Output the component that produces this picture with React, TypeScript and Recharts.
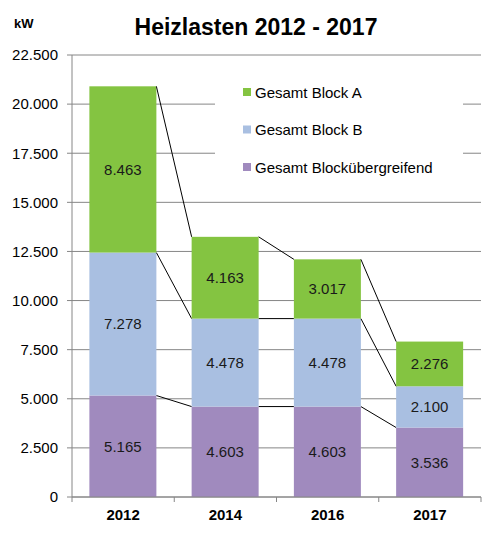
import { BarChart, Bar, XAxis, YAxis, CartesianGrid, Legend, LabelList } from "recharts";

const years = ["2012", "2014", "2016", "2017"];
const blockUebergreifend = [5165, 4603, 4603, 3536];
const blockB = [7278, 4478, 4478, 2100];
const blockA = [8463, 4163, 3017, 2276];
const yTicks = [0, 2500, 5000, 7500, 10000, 12500, 15000, 17500, 20000, 22500];

// stack order bottom -> top
const series = [
  { key: "ueber", name: "Gesamt Blockübergreifend", color: "#A08ABE" },
  { key: "blockB", name: "Gesamt Block B", color: "#A9BFE1" },
  { key: "blockA", name: "Gesamt Block A", color: "#84C441" },
];

const data = years.map((year, i) => ({
  year,
  ueber: blockUebergreifend[i],
  blockB: blockB[i],
  blockA: blockA[i],
}));

const FONT = "'Liberation Sans', Arial, sans-serif";
const GRID = "#868686";

const fmt = (v: any) => String(v).replace(/\B(?=(\d{3})+(?!\d))/g, ".");

// remembers the top-right corner of each segment so the next bar can draw the series line back to it
const edges: Record<string, { x: number; y: number }[]> = {};

function segmentShape(key: string, color: string) {
  return (props: any) => {
    const { x, y, width, height, index } = props;
    const list = (edges[key] ||= []);
    list[index] = { x: x + width, y };
    const prev = index > 0 ? list[index - 1] : null;
    return (
      <g>
        <rect x={x} y={y} width={width} height={height} fill={color} />
        {prev && <line x1={prev.x} y1={prev.y} x2={x} y2={y} stroke="#000" strokeWidth={1} />}
      </g>
    );
  };
}

function YearTick(props: any) {
  const { x, y, payload, index, width, visibleTicksCount } = props;
  const count = visibleTicksCount || years.length;
  const band = (typeof width === "number" ? width : 409) / count;
  const axisY = y - 5;
  return (
    <g>
      <line x1={x - band / 2} y1={axisY} x2={x - band / 2} y2={axisY + 5} stroke={GRID} />
      {index === count - 1 && (
        <line x1={x + band / 2} y1={axisY} x2={x + band / 2} y2={axisY + 5} stroke={GRID} />
      )}
      <text x={x} y={y + 18} textAnchor="middle" fontSize={15} fontWeight="bold" fill="#000">
        {payload.value}
      </text>
    </g>
  );
}

function LegendBox() {
  const rows = [...series].reverse();
  return (
    <svg width={248} height={120} style={{ display: "block" }}>
      <rect x={0} y={0} width={248} height={120} fill="#fff" />
      {rows.map((s, i) => (
        <g key={s.key}>
          <rect x={28} y={18 + i * 37.5} width={8} height={8} fill={s.color} />
          <text x={40} y={27.5 + i * 37.5} fontSize={15} fill="#000" fontFamily={FONT}>
            {s.name}
          </text>
        </g>
      ))}
    </svg>
  );
}

export default function App() {
  return (
    <div style={{ position: "absolute", left: 0, top: 0, width: 500, height: 533, background: "#fff", fontFamily: FONT }}>
      <BarChart
        width={500}
        height={533}
        data={data}
        margin={{ top: 55, right: 19, left: 12, bottom: 6 }}
        barCategoryGap="17%"
      >
        <CartesianGrid vertical={false} stroke={GRID} />
        <XAxis
          dataKey="year"
          height={30}
          stroke={GRID}
          tickLine={false}
          tickSize={5}
          tickMargin={0}
          tick={<YearTick />}
        />
        <YAxis
          width={60}
          domain={[0, 22500]}
          ticks={yTicks}
          tickFormatter={fmt}
          stroke={GRID}
          tickSize={5}
          tickMargin={9}
          tick={{ fontSize: 15, fill: "#000" }}
          interval={0}
        />
        <Legend
          layout="vertical"
          align="center"
          verticalAlign="middle"
          content={() => <LegendBox />}
          wrapperStyle={{ left: 215, top: 70, width: 248, height: 120 }}
        />
        {series.map((s) => (
          <Bar
            key={s.key}
            dataKey={s.key}
            name={s.name}
            stackId="heiz"
            fill={s.color}
            isAnimationActive={false}
            shape={segmentShape(s.key, s.color)}
          >
            <LabelList dataKey={s.key} position="center" formatter={fmt} fontSize={15} fill="#1a1a1a" />
          </Bar>
        ))}
      </BarChart>
      <svg width={500} height={60} style={{ position: "absolute", left: 0, top: 0, pointerEvents: "none" }}>
        <text x={256} y={35} textAnchor="middle" fontSize={23} fontWeight="bold" fill="#000">
          Heizlasten 2012 - 2017
        </text>
        <text x={14} y={28} fontSize={13} fontWeight="bold" fill="#000">
          kW
        </text>
      </svg>
    </div>
  );
}
